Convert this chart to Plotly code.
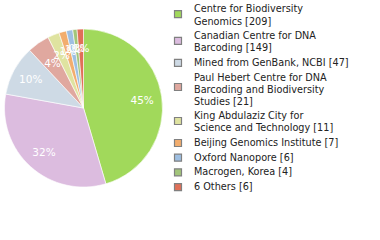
import plotly.graph_objects as go

labels = ["Centre for Biodiversity Genomics", "Canadian Centre for DNA Barcoding",
          "Mined from GenBank, NCBI", "Paul Hebert Centre for DNA Barcoding and Biodiversity Studies",
          "King Abdulaziz City for Science and Technology", "Beijing Genomics Institute",
          "Oxford Nanopore", "Macrogen, Korea", "6 Others"]
legend_lines = [["Centre for Biodiversity", "Genomics [209]"],
                ["Canadian Centre for DNA", "Barcoding [149]"],
                ["Mined from GenBank, NCBI [47]"],
                ["Paul Hebert Centre for DNA", "Barcoding and Biodiversity", "Studies [21]"],
                ["King Abdulaziz City for", "Science and Technology [11]"],
                ["Beijing Genomics Institute [7]"],
                ["Oxford Nanopore [6]"],
                ["Macrogen, Korea [4]"],
                ["6 Others [6]"]]
values = [209, 149, 47, 21, 11, 7, 6, 4, 6]
colors = ["#a1d95b", "#dcbcdf", "#cedae5", "#e0a89f", "#dfe3a0", "#f2ad6e",
          "#9ebfe2", "#a2c57a", "#e07058"]

W, H = 380, 240
FONT = "DejaVu Sans"
total = sum(values)
pct_text = [f"{int(v * 100 // total)}%" for v in values]
big = [v / total >= 0.08 for v in values]

cx, cy, R = 83.5, 108, 79
dom = dict(x=[(cx - R) / W, (cx + R) / W], y=[1 - (cy + R) / H, 1 - (cy - R) / H])
r2 = 62
dom2 = dict(x=[(cx - r2) / W, (cx + r2) / W], y=[1 - (cy + r2) / H, 1 - (cy - r2) / H])

fig = go.Figure()
fig.add_trace(go.Pie(
    labels=labels, values=values, sort=False, direction="clockwise", rotation=0,
    marker=dict(colors=colors, line=dict(color="white", width=0.6)),
    textinfo="none", domain=dom, showlegend=False,
    hoverinfo="label+value+percent",
))
for d, sel in ((dom, True), (dom2, False)):
    fig.add_trace(go.Pie(
        labels=labels, values=values, sort=False, direction="clockwise", rotation=0,
        hole=0.5,
        marker=dict(colors=["rgba(0,0,0,0)"] * len(values), line=dict(width=0)),
        text=[t if b == sel else "" for t, b in zip(pct_text, big)],
        texttemplate="%{text}", textposition="inside",
        insidetextorientation="horizontal",
        textfont=dict(family=FONT, size=10.5, color="white"),
        domain=d, showlegend=False, hoverinfo="skip",
    ))

annotations = []
shapes = []
y = 9.0
for lines, col in zip(legend_lines, colors):
    n = len(lines)
    for i, t in enumerate(lines):
        annotations.append(dict(
            x=192 / W, y=1 - (y + 12 * i) / H, xref="paper", yref="paper",
            xanchor="left", yanchor="middle", showarrow=False, text=t,
            font=dict(family=FONT, size=9.7, color="#222222")))
    sc = y + 0.5 + 4.7 * (n - 1)
    shapes.append(dict(type="rect", xref="paper", yref="paper",
                       x0=174.5 / W, x1=181.5 / W, y0=1 - (sc - 3.5) / H, y1=1 - (sc + 3.5) / H,
                       fillcolor=col, line=dict(color="#808080", width=1.2)))
    y += 12 * n + 2.7

fig.update_layout(
    width=W, height=H, margin=dict(l=0, r=0, t=0, b=0),
    paper_bgcolor="white", plot_bgcolor="white",
    uniformtext=dict(minsize=10.5, mode="show"),
    annotations=annotations, shapes=shapes,
)
fig.write_html("out.html")
